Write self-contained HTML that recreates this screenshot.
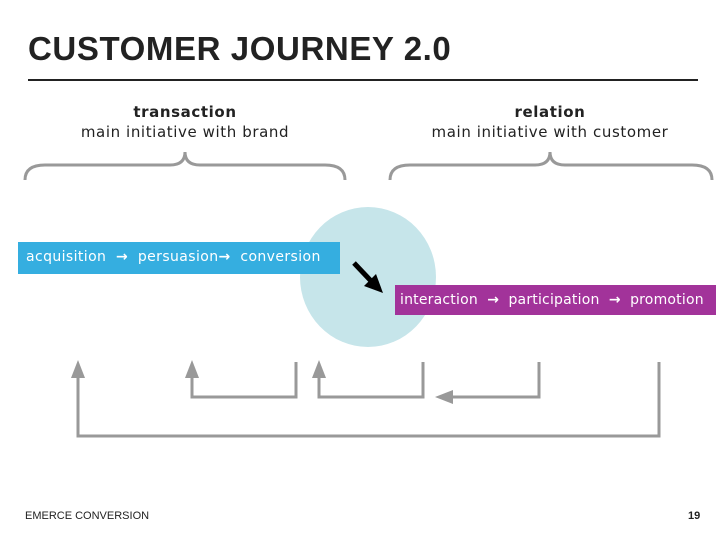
<!DOCTYPE html>
<html><head><style>
body{margin:0;width:728px;height:546px;background:#fff;font-family:"Liberation Sans",sans-serif;position:relative;overflow:hidden}
.t{position:absolute;left:28px;top:30px;font-size:33px;font-weight:bold;color:#222;letter-spacing:0.6px}
.hr{position:absolute;left:28px;top:79px;width:670px;height:2px;background:#222}
.lbl{position:absolute;font-size:15px;color:#222;text-align:center;font-family:"DejaVu Sans",sans-serif;letter-spacing:0.6px;line-height:20px}
.box{position:absolute;color:#fff;font-size:14px;line-height:30px;padding-left:8px;box-sizing:border-box;font-family:"DejaVu Sans",sans-serif;letter-spacing:0.4px;white-space:nowrap}
.f{position:absolute;font-size:11px;color:#222;top:510px}
</style></head><body>
<div class="t">CUSTOMER JOURNEY 2.0</div>
<div class="hr"></div>
<div class="lbl" style="left:25px;top:102px;width:320px"><b>transaction</b><br>main initiative with brand</div>
<div class="lbl" style="left:380px;top:102px;width:340px"><b>relation</b><br>main initiative with customer</div>
<svg width="728" height="546" style="position:absolute;left:0;top:0">
<g fill="none" stroke="#999" stroke-width="3">
<path d="M25 180 Q25 165 45 165 L170 165 Q185 165 185 152 Q185 165 200 165 L325 165 Q345 165 345 180"/>
<path d="M390 180 Q390 165 410 165 L535 165 Q550 165 550 152 Q550 165 565 165 L692 165 Q712 165 712 180"/>
</g>
<ellipse cx="368" cy="277" rx="68" ry="70" fill="#c6e5ea"/>
<g fill="none" stroke="#999" stroke-width="3">
<path d="M78 375 V436 H659 V362"/>
<path d="M192 375 V397 H296 V362"/>
<path d="M319 375 V397 H423 V362"/>
<path d="M539 362 V397 H450"/>
</g>
<g fill="#999">
<polygon points="78,360 71,378 85,378"/>
<polygon points="192,360 185,378 199,378"/>
<polygon points="319,360 312,378 326,378"/>
<polygon points="435,397 453,390 453,404"/>
</g>
<line x1="354" y1="263" x2="372" y2="282" stroke="#000" stroke-width="5"/>
<polygon points="383,293 364,286 376,274" fill="#000"/>
</svg>
<div class="box" style="left:18px;top:242px;width:322px;height:32px;background:#35aee0;line-height:30px">acquisition &nbsp;<b>→</b>&nbsp; persuasion<b>→</b>&nbsp; conversion</div>
<div class="box" style="left:395px;top:285px;width:321px;height:30px;background:#a2339a;padding-left:5px;letter-spacing:0.2px">interaction &nbsp;<b>→</b>&nbsp; participation &nbsp;<b>→</b>&nbsp; promotion</div>
<div class="f" style="left:25px">EMERCE CONVERSION</div>
<div class="f" style="left:688px;font-weight:bold">19</div>
</body></html>
